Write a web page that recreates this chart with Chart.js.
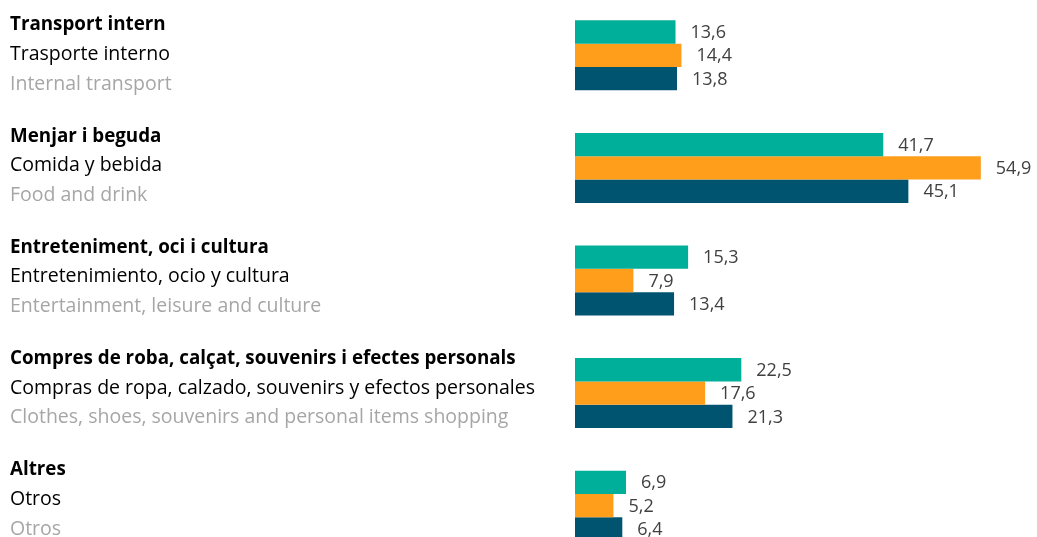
<!DOCTYPE html>
<html>
<head>
<meta charset="utf-8">
<script src="https://cdn.jsdelivr.net/npm/chart.js@4.4.0/dist/chart.umd.min.js"></script>
<style>
  html, body { margin: 0; padding: 0; background: #fff; overflow: hidden; }
  #wrap { position: absolute; left: 0; top: -1px; width: 1037px; height: 563px; }
</style>
</head>
<body>
<div id="wrap"><canvas id="chart" width="1037" height="563"></canvas></div>
<script>
// category labels, three languages
const labelsCa = ['Transport intern', 'Menjar i beguda', 'Entreteniment, oci i cultura',
  'Compres de roba, calçat, souvenirs i efectes personals', 'Altres'];
const labelsEs = ['Trasporte interno', 'Comida y bebida', 'Entretenimiento, ocio y cultura',
  'Compras de ropa, calzado, souvenirs y efectos personales', 'Otros'];
const labelsEn = ['Internal transport', 'Food and drink', 'Entertainment, leisure and culture',
  'Clothes, shoes, souvenirs and personal items shopping', 'Otros'];

// series values
const serieA = [13.6, 41.7, 15.3, 22.5, 6.9];
const serieB = [14.4, 54.9, 7.9, 17.6, 5.2];
const serieC = [13.8, 45.1, 13.4, 21.3, 6.4];

const FONT = '"Open Sans", "Noto Sans", sans-serif';

const sideLabels = {
  id: 'sideLabels',
  afterDraw(chart) {
    const ctx = chart.ctx;
    const y = chart.scales.y;
    ctx.save();
    ctx.textAlign = 'left';
    ctx.textBaseline = 'alphabetic';
    labelsCa.forEach((l, i) => {
      // text block sits a little higher on each lower group
      const top = y.getPixelForValue(i) - 25 - 1.35 * i;
      ctx.font = 'bold 18.8px ' + FONT;
      ctx.fillStyle = '#000';
      ctx.fillText(l, 10, top);
      ctx.font = '19.5px ' + FONT;
      ctx.fillText(labelsEs[i], 10, top + 29.5);
      ctx.fillStyle = '#a6a6a6';
      ctx.fillText(labelsEn[i], 10, top + 59.3);
    });
    ctx.restore();
  }
};

const valueLabels = {
  id: 'valueLabels',
  afterDatasetsDraw(chart) {
    const ctx = chart.ctx;
    ctx.save();
    ctx.font = '18px ' + FONT;
    ctx.fillStyle = '#404040';
    ctx.textAlign = 'left';
    ctx.textBaseline = 'middle';
    chart.data.datasets.forEach((ds, di) => {
      chart.getDatasetMeta(di).data.forEach((bar, i) => {
        ctx.fillText(ds.data[i].toFixed(1).replace('.', ','), bar.x + 15, bar.y + 1);
      });
    });
    ctx.restore();
  }
};

new Chart(document.getElementById('chart'), {
  type: 'bar',
  data: {
    labels: labelsCa,
    datasets: [
      { label: '2019', data: serieA, backgroundColor: '#00af9a' },
      { label: '2020', data: serieB, backgroundColor: '#ff9e1b' },
      { label: '2021', data: serieC, backgroundColor: '#005470' }
    ]
  },
  options: {
    indexAxis: 'y',
    responsive: false,
    animation: false,
    layout: { padding: { left: 575, right: 0, top: 0, bottom: 0 } },
    datasets: { bar: { categoryPercentage: 0.622, barPercentage: 1 } },
    scales: {
      x: { display: false, min: 0, max: 62.5 },
      y: { display: false }
    },
    plugins: { legend: { display: false }, tooltip: { enabled: false } }
  },
  plugins: [sideLabels, valueLabels]
});
</script>
</body>
</html>
